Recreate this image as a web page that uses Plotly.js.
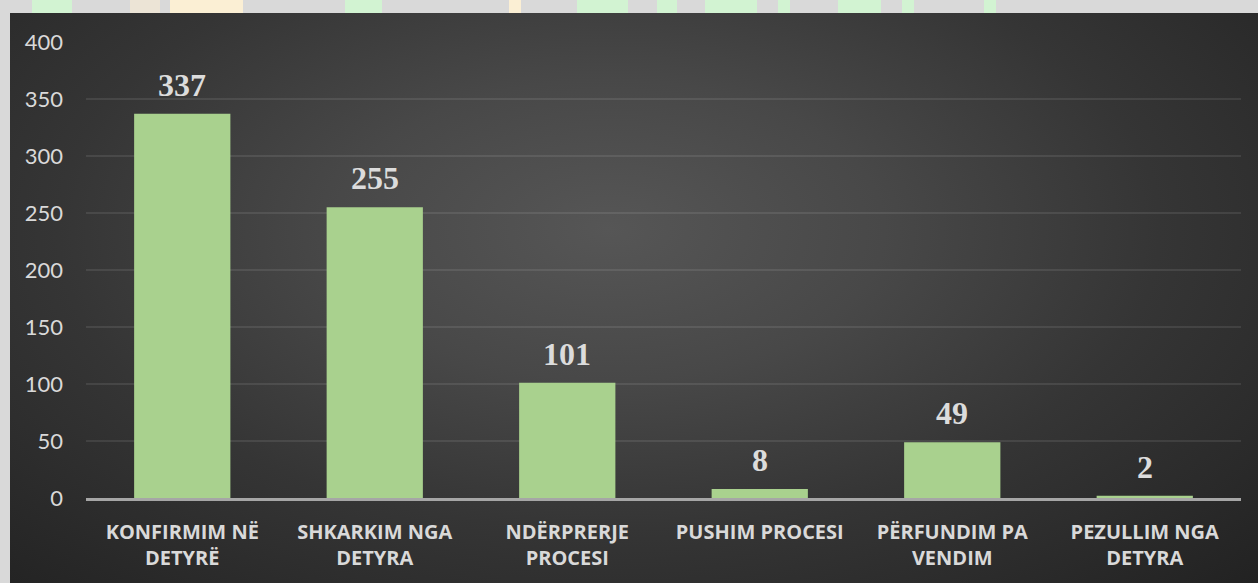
<!DOCTYPE html>
<html>
<head>
<meta charset="utf-8">
<script src="https://cdn.plot.ly/plotly-3.0.1.min.js"></script>
<style>
  html, body { margin: 0; padding: 0; background: #d9d9d9; width: 1258px; height: 583px; overflow: hidden; }
  #panel { position: absolute; left: 10px; top: 13px; width: 1248px; height: 570px;
    background: radial-gradient(ellipse farthest-corner at 48% 38%, #565656 0%, #484848 30%, #353535 60%, #222222 100%); }
  #chart { position: absolute; left: 0; top: 0; width: 1258px; height: 583px; }
  .wm { position: absolute; top: 0; height: 13px; }
  .g { background: #d2f3d2; }
  .y { background: #fbefd4; }
</style>
</head>
<body>
<div class="wm g" style="left:32px;width:40px"></div>
<div class="wm y" style="left:130px;width:30px;background:#ece4d6"></div>
<div class="wm y" style="left:170px;width:73px"></div>
<div class="wm g" style="left:345px;width:37px"></div>
<div class="wm y" style="left:509px;width:12px"></div>
<div class="wm g" style="left:577px;width:51px"></div>
<div class="wm g" style="left:657px;width:20px"></div>
<div class="wm g" style="left:705px;width:52px"></div>
<div class="wm g" style="left:778px;width:12px"></div>
<div class="wm g" style="left:838px;width:43px"></div>
<div class="wm g" style="left:902px;width:12px"></div>
<div class="wm g" style="left:984px;width:12px"></div>
<div id="panel"></div>
<div id="chart"></div>
<script>
const categories = [
  "KONFIRMIM NË<br>DETYRË",
  "SHKARKIM NGA<br>DETYRA",
  "NDËRPRERJE<br>PROCESI",
  "PUSHIM PROCESI",
  "PËRFUNDIM PA<br>VENDIM",
  "PEZULLIM NGA<br>DETYRA"
];
const values = [337, 255, 101, 8, 49, 2];
const yTicks = [0, 50, 100, 150, 200, 250, 300, 350, 400];

const trace = {
  type: 'bar',
  x: categories,
  y: values,
  marker: { color: '#a9d18e', line: { width: 0 } },
  hoverinfo: 'x+y'
};

const annotations = values.map((v, i) => ({
  x: categories[i],
  y: v,
  xref: 'x', yref: 'y',
  text: String(v),
  showarrow: false,
  yanchor: 'bottom',
  yshift: 9,
  font: { family: '"Liberation Serif", "Times New Roman", serif', size: 32, color: '#dcdcdc', weight: 700 }
}));

const layout = {
  width: 1258, height: 583,
  margin: { l: 86, r: 17, t: 42, b: 85 },
  paper_bgcolor: 'rgba(0,0,0,0)',
  plot_bgcolor: 'rgba(0,0,0,0)',
  bargap: 0.5,
  showlegend: false,
  xaxis: {
    type: 'category',
    showgrid: false,
    showline: true,
    linecolor: '#a6a6a6',
    linewidth: 2.5,
    ticks: '',
    ticklabelstandoff: 14,
    tickfont: { family: '"Open Sans", sans-serif', size: 20, color: '#d9d9d9', weight: 700 }
  },
  yaxis: {
    range: [0, 400],
    tickvals: yTicks,
    ticktext: yTicks.map(String),
    showgrid: true,
    gridcolor: 'rgba(255,255,255,0.09)',
    gridwidth: 2,
    zeroline: false,
    showline: false,
    ticks: '',
    ticklabelstandoff: 22,
    tickfont: { family: 'Lato, "Open Sans", sans-serif', size: 22, color: '#d9d9d9' }
  },
  annotations: annotations
};

Plotly.newPlot('chart', [trace], layout, { displayModeBar: false, staticPlot: true });
</script>
</body>
</html>
